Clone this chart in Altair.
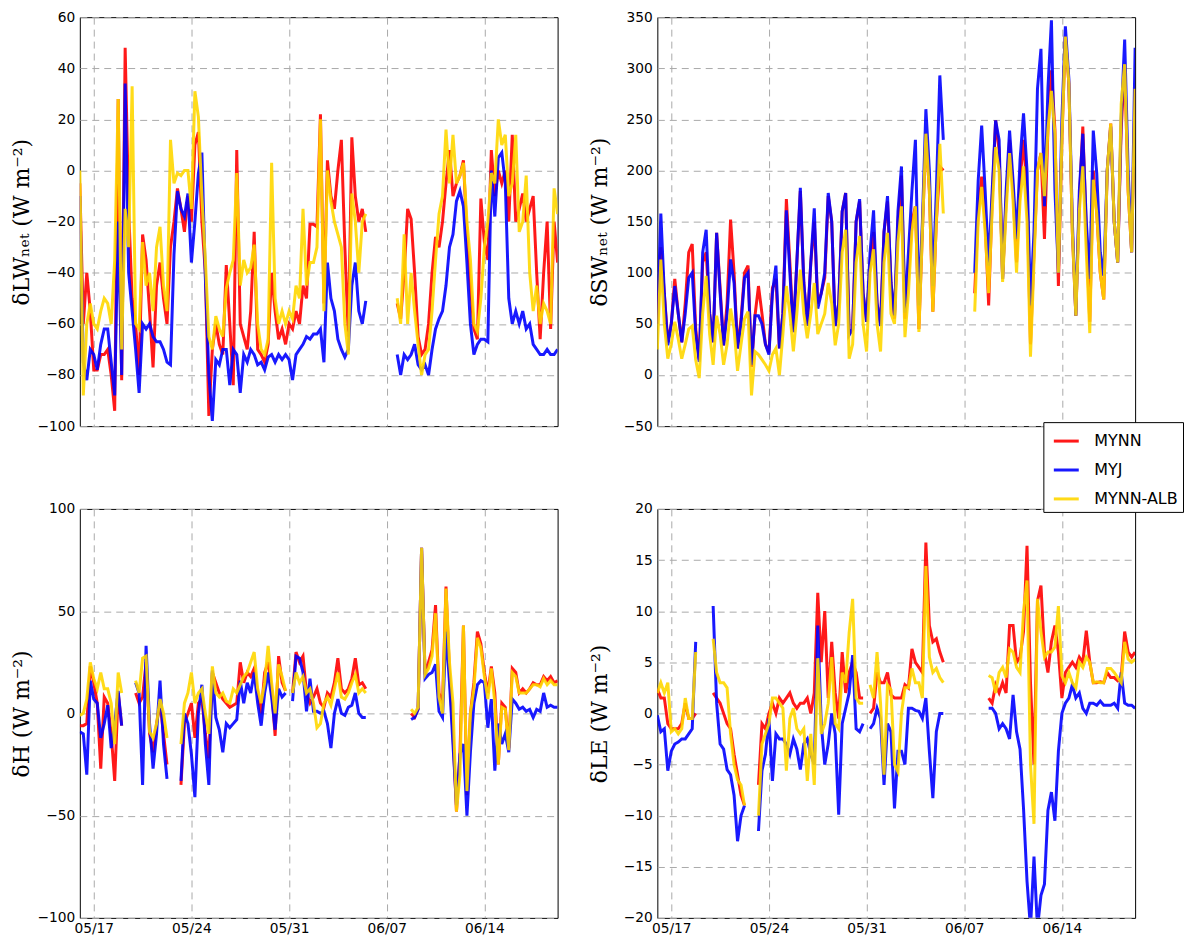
import altair as alt
import pandas as pd

N = None
MODELS = ["MYNN", "MYJ", "MYNN-ALB"]
COLORS = ["#ff0000", "#0000ff", "#ffd700"]
YEAR = 2015
TICK_DAYS = [(5, 17), (5, 24), (5, 31), (6, 7), (6, 14)]
START = pd.Timestamp("2015-05-16 00:00")
NPTS = 138  # 6-hourly samples
TIMES = [(START + pd.Timedelta(hours=6 * i)).strftime("%Y-%m-%dT%H:%M:%S") for i in range(NPTS)]

# ---------------- delta LW_net ----------------
lw_mynn = [-5, -60, -40, -55, -78, -78, -72, -72, -70, -80,
           -94, 28, -82, 48, -15, -50, -60, -80, -25, -35,
           -55, -77, -45, -36, -50, -60, -30, -20, -7, -15,
           -24, -10, -20, 10, 15, -20, -40, -96, -70, -60,
           -68, -72, -37, -60, -84, 8, -60, -65, -70, -55,
           -24, -70, -72, -75, -68, -40, -55, -66, -62, -68,
           -60, -62, -55, -60, -45, -50, -21, -21, -22, 22,
           -52, 4, -10, -15, 0, 12, -30, -65, 13, -10,
           -20, -15, -24, N, N, N, N, N, N, N,
           N, -52, -58, -40, -15, -19, -40, -65, -72, -70,
           -60, -40, -26, -30, -20, -5, 8, -10, -5, -2,
           4, -25, -45, -62, -66, -11, -28, -35, 8, -10,
           0, -5, 0, -20, 14, -20, -15, -9, -20, -15,
           -10, -40, -66, -40, -20, -62, -20, -36]
lw_myj = [-10, -75, -82, -70, -72, -78, -68, -62, -62, -75,
          -88, -20, -80, 34, -40, -55, -70, -87, -60, -62,
          -60, -65, -67, -67, -70, -75, -76, -33, -8, -15,
          -18, -9, -36, -20, -1, 7, -42, -80, -98, -74,
          -76, -70, -70, -84, -70, -72, -87, -72, -75, -70,
          -72, -76, -75, -78, -73, -72, -75, -72, -74, -72,
          -74, -82, -72, -70, -68, -65, -66, -64, -64, -62,
          -75, -36, -50, -55, -66, -70, -73, -70, -45, -36,
          -55, -60, -51, N, N, N, N, N, N, N,
          N, -72, -80, -72, -74, -72, -68, -76, -78, -76,
          -80, -70, -62, -58, -55, -45, -30, -25, -12, -8,
          -14, -36, -60, -72, -68, -66, -66, -67, 0, -18,
          5, 7, -5, -50, -60, -55, -60, -55, -62, -60,
          -68, -70, -72, -72, -70, -72, -72, -70]
lw_alb = [0, -88, -60, -52, -60, -62, -55, -50, -52, -60,
          -35, 28, -70, -15, -30, 33, -60, -62, -28, -45,
          -40, -55, -30, -22, -45, -55, 12, -5, -1, -2,
          0, 0, -15, 31, 21, -10, -35, -65, -70, -57,
          -62, -65, -46, -40, -35, -1, -45, -35, -40, -38,
          -29, -60, -70, -72, -66, 3, -50, -60, -55, -60,
          -55, -58, -45, -50, -15, -45, -36, -36, -30, 20,
          -55, 0, -12, -20, -25, -30, -60, -72, -9, -20,
          -40, -20, -17, N, N, N, N, N, N, N,
          N, -50, -60, -25, -60, -40, -55, -68, -80, -72,
          -70, -55, -35, -17, -10, 16, -5, 14, -5, -2,
          3, -20, -35, -60, -63, -50, -30, -20, -1, -5,
          20, 10, 14, -10, -5, 14, -24, -20, -2, -40,
          -55, -45, -60, -52, -55, -60, -7, -17]

# ---------------- delta SW_net ----------------
sw_mynn = [50, 125, 80, 32, 50, 94, 60, 32, 70, 120,
           128, 45, 15, 110, 120, 60, 32, 139, 85, 29,
           70, 152, 100, 26, 55, 100, 107, 8, 58, 87,
           60, 30, 22, 85, 94, 26, 60, 172, 110, 42,
           110, 180, 90, 48, 110, 150, 70, 80, 95, 175,
           150, 48, 70, 160, 178, 40, 45, 150, 170, 80,
           52, 110, 140, 70, 50, 140, 170, 90, 55, 150,
           195, 55, 100, 150, 165, 45, 140, 236, 180, 62,
           150, 204, 200, N, N, N, N, N, N, N,
           N, 80, 160, 194, 150, 68, 170, 249, 220, 94,
           170, 230, 180, 110, 190, 230, 180, 30, 120, 200,
           217, 133, 240, 298, 240, 87, 230, 331, 285, 140,
           58, 170, 243, 140, 52, 200, 158, 100, 74, 200,
           246, 150, 110, 240, 304, 180, 120, 280]
sw_myj = [50, 158, 80, 29, 50, 87, 60, 32, 60, 95,
          100, 40, 13, 120, 142, 60, 32, 139, 80, 29,
          60, 113, 90, 26, 50, 95, 100, 10, 58, 58,
          50, 30, 20, 80, 107, 26, 60, 161, 100, 42,
          110, 183, 90, 48, 110, 163, 65, 80, 100, 178,
          150, 48, 70, 160, 178, 39, 45, 150, 172, 80,
          52, 120, 161, 70, 48, 140, 175, 90, 58, 160,
          204, 61, 120, 180, 230, 68, 150, 260, 200, 87,
          180, 293, 230, N, N, N, N, N, N, N,
          N, 100, 190, 244, 180, 107, 180, 249, 230, 94,
          180, 239, 190, 133, 210, 256, 200, 68, 140, 280,
          319, 165, 280, 347, 181, 100, 250, 341, 290, 150,
          58, 180, 236, 150, 94, 239, 197, 120, 97, 200,
          243, 150, 110, 250, 328, 200, 120, 320]
sw_alb = [25, 113, 50, 16, 30, 52, 35, 16, 30, 45,
          48, 15, -3, 60, 97, 40, 10, 58, 40, 10,
          30, 65, 45, 4, 30, 55, 62, -20, 23, 20,
          15, 10, 4, 20, 26, 0, 40, 87, 60, 23,
          60, 103, 60, 36, 60, 90, 40, 50, 60, 90,
          70, 29, 50, 120, 142, 16, 30, 110, 136, 50,
          23, 100, 123, 50, 23, 110, 139, 60, 50, 130,
          165, 37, 80, 140, 165, 42, 140, 236, 180, 62,
          150, 226, 158, N, N, N, N, N, N, N,
          N, 62, 150, 184, 140, 80, 160, 223, 200, 91,
          160, 217, 170, 100, 170, 204, 150, 18, 110, 200,
          217, 175, 240, 278, 236, 100, 230, 331, 285, 140,
          58, 160, 204, 120, 41, 191, 158, 100, 74, 200,
          246, 150, 110, 265, 304, 180, 120, 280]

# ---------------- delta H ----------------
h_mynn = [-6, -6, -5, 23, 15, 5, -27, 8, 5, -10,
          -33, 10, -6, N, N, N, 10, 5, 8, 25,
          -10, -19, -5, 5, -10, -25, N, N, N, -35,
          -5, 0, 5, -12, 5, 7, -10, -22, 20, 15,
          10, 7, 5, 3, 4, 5, 25, 15, 20, 18,
          22, 10, 0, 20, 25, 12, -11, 28, 15, 11,
          N, 10, 30, 25, 28, 10, 5, 8, 12, 5,
          3, 10, 8, 15, 27, 12, 10, 12, 17, 27,
          14, 15, 12, N, N, N, N, N, N, N,
          N, N, N, N, N, 0, -2, 2, 81, 19,
          25, 31, 53, 10, 5, 62, 20, -10, -48, -20,
          43, -40, 0, 15, 40, 34, 20, 10, 23, 10,
          -25, 5, 3, -17, 22, 20, 10, 12, 10, 12,
          15, 14, 14, 18, 16, 18, 15, 16]
h_myj = [-9, -10, -30, 16, 7, 5, -12, -5, 4, -17,
         -5, 11, -6, N, N, N, 15, 10, -35, 33,
         -5, -27, -10, 16, -15, -32, N, N, N, -33,
         0, -5, -20, -41, 0, 14, -15, -35, 21, -2,
         -8, -19, -5, -7, -5, -3, 16, 5, 15, 10,
         20, 5, -6, 10, 20, 8, -8, 12, 8, 10,
         N, 6, 28, 27, 20, 1, 17, 1, 1, 0,
         1, -5, -17, 0, 7, 0, -1, 3, 4, 10,
         0, -2, -2, N, N, N, N, N, N, N,
         N, N, N, N, N, -3, -2, 2, 81, 17,
         19, 20, 24, 1, -2, 40, 15, -15, -45, -20,
         -15, -50, -19, 5, 14, 16, 15, -7, 7, -28,
         -5, -15, -10, -19, 7, 5, 2, 3, 1, 2,
         -2, 2, 1, 10, 3, 4, 3, 3]
h_alb = [-1, 0, 7, 25, 17, 12, 20, 12, 12, 5,
         -15, 20, 10, N, N, N, 16, 10, 27, 28,
         -9, -12, -5, 7, 0, -12, N, N, N, -15,
         5, 10, 20, 5, 10, 12, 0, -10, 23, 10,
         8, 10, 6, 5, 12, 10, 14, 18, 20, 25,
         30, 12, 5, 15, 33, 15, 0, 24, 18, 11,
         N, 10, 20, 15, 18, 10, 12, 5, -7, -5,
         5, 8, 4, 12, 20, 8, 7, 10, 15, 19,
         10, 12, 10, N, N, N, N, N, N, N,
         N, N, N, N, N, 2, 0, 3, 81, 19,
         22, 28, 49, 8, 0, 61, 25, 5, -48, -30,
         43, -38, 0, 12, 37, 32, 18, 7, 22, 5,
         -25, 3, 2, -18, 20, 18, 10, 10, 10, 12,
         14, 14, 13, 17, 14, 16, 14, 14]

# ---------------- delta LE ----------------
le_mynn = [2.4, 1.5, 1.5, -1, -1.5, -1.5, -1.5, -1, 1, -0.5,
           -0.5, 0, N, N, N, N, 2, 1.5, 1, 0,
           -1, -1.5, -4, -6, -8, -9, N, N, N, -7,
           -1, -1.5, 0, 1, 0, 1.5, 1, 1.5, 2, 1,
           0.5, 1, 1, 1.5, 0, 2, 11.8, 5, 10, 1.5,
           7, 2, -0.5, 6, 2, 4, 5, 4, 1.5, 1.5,
           N, 0, 0.5, 4, 3, 3, 4, 1.8, 1.5, 1.5,
           1.5, 2.8, 2.5, 6.3, 5, 4.5, 4, 16.7, 8.6, 7,
           7.3, 6, 5, N, N, N, N, N, N, N,
           N, N, N, N, N, 1.5, 1, 2.8, 2, 3,
           2, 8.6, 8.6, 5, 5.5, 8, 16.4, 3, -5, 11,
           12.5, 6, 4, 7, 8.6, 6, 1.5, 4, 4.5, 5,
           4.5, 5.5, 5, 8.1, 5, 3, 3, 3.1, 3, 4,
           3.5, 3.5, 3.2, 3.5, 8, 6, 5.5, 6]
le_myj = [-0.2, -1.8, -1.5, -5.6, -3.7, -3, -2.8, -2.5, -2.5, -2,
          -1.5, 7, N, N, N, N, 10.5, 1, -3, -3.5,
          -5.5, -6, -8, -12.5, -10, -9, N, N, N, -11.5,
          -5.6, -4, -0.5, -6.6, -2, -2.5, -2.5, -3, -4, -2.5,
          -3.5, -5.5, -3, -2.5, -4, -5, 8.6, -1, -5, -3,
          0, -2, -9.9, -1, 0.5, 2, 5.7, -1.5, -1.8, -1,
          N, -1.5, -1, 0.5, -0.5, -7, -1, -1.8, -9.3, -3.7,
          -3.7, -5, 0.5, 0.5, 0.3, 0.2, -0.5, 1.5, -3.7, -8.3,
          -1.8, 0, 0, N, N, N, N, N, N, N,
          N, N, N, N, N, 0.5, 0.5, 0, -1.5, -1,
          -1.5, -2.5, 1.8, -1.8, -3.5, -9.3, -16.4, -21, -14, -21,
          -17.8, -16.7, -9.5, -7.7, -10.5, -3.7, 0, 1, 1.5, 2.8,
          1.5, 2, 0.5, 0, 1, 1, 0.8, 1.2, 0.8, 0.8,
          0.8, 1, 0.5, 4, 1, 0.8, 0.8, 0.5]
le_alb = [2, 3, 2, 3, -1.8, -1.5, -2, -1.5, 1.5, -0.5,
          -0.5, 6, N, N, N, N, 7.3, 4, 3, 3,
          2.5, -2, -5, -6.5, -7, -9, N, N, N, -10,
          -3, -2, -1, 1.5, 1.5, 1, 0.5, -5.6, -0.5, 0.5,
          -1.5, -2, -1.5, -6.6, -2, -7, 5.4, -2, -1, 1,
          5.5, -1, -1.5, 4, 3, 7.9, 11.2, 1.5, 1, 1,
          N, 2.8, 1.5, 6, 1, -6, 2.8, 2.3, -5, -5.7,
          0, 2.5, 2.5, 4.4, 3, 3, 1.5, 14.4, 5.5, 4,
          4.4, 3.5, 3, N, N, N, N, N, N, N,
          N, N, N, N, N, 3.7, 3.5, 2, 4, 4.5,
          3.5, 6.3, 6, 4.5, 4, 10, 13, -5, -10.8, 11.2,
          8, 5.5, 6, 6, 6.5, 10.5, 3.7, 3, 4, 3,
          2.5, 5, 4.5, 5.5, 5, 3, 3.1, 3, 3, 4.4,
          4.4, 4, 3.5, 3, 7, 5.3, 5, 5.3]

GRID = "#aaaaaa"
DASH = [7, 5]
TICK_FONT = "DejaVu Sans"
TICK_SIZE = 13.8


def panel(series, ymin, ymax, step, ytitle, show_x):
    rows = []
    for m, vals in zip(MODELS, series):
        assert len(vals) == NPTS, (ytitle, m, len(vals))
        for t, v in zip(TIMES, vals):
            rows.append({"t": t, "v": v, "model": m})
    df = pd.DataFrame(rows)

    xaxis = alt.Axis(
        values=[alt.DateTime(year=YEAR, month=mo, date=d) for mo, d in TICK_DAYS],
        format="%m/%d", labels=show_x, ticks=False, domain=False,
        grid=True, gridDash=DASH, gridColor=GRID, gridWidth=1,
        labelFont=TICK_FONT, labelFontSize=TICK_SIZE, labelColor="black",
        labelPadding=4, title=None,
    )
    yaxis = alt.Axis(
        values=list(range(ymin, ymax + 1, step)), ticks=False, domain=False,
        grid=True, gridDash=DASH, gridColor=GRID, gridWidth=1,
        labelFont=TICK_FONT, labelFontSize=TICK_SIZE, labelColor="black",
        labelPadding=5, minExtent=42, maxExtent=42,
        title=ytitle, titleFont="DejaVu Serif", titleFontSize=22,
        titleFontWeight="normal", titleColor="black", titlePadding=4,
    )
    xs = alt.Scale(domain=[alt.DateTime(year=YEAR, month=5, date=16, hours=0),
                           alt.DateTime(year=YEAR, month=6, date=19, hours=6)])
    ys = alt.Scale(domain=[ymin, ymax], nice=False, zero=False)
    cs = alt.Scale(domain=MODELS, range=COLORS)

    base = alt.Chart(df)
    layers = []
    for m in MODELS:
        layers.append(
            base.transform_filter(alt.datum.model == m)
            .mark_line(strokeWidth=3, opacity=0.9, clip=True,
                       invalid="break-paths-show-domains")
            .encode(
                x=alt.X("t:T", scale=xs, axis=xaxis),
                y=alt.Y("v:Q", scale=ys, axis=yaxis),
                color=alt.Color("model:N", scale=cs, legend=alt.Legend(title=None)),
            )
        )
    return alt.layer(*layers).properties(width=479, height=410)


p_lw = panel([lw_mynn, lw_myj, lw_alb], -100, 60, 20, "δLWₙₑₜ (W m⁻²)", False)
p_sw = panel([sw_mynn, sw_myj, sw_alb], -50, 350, 50, "δSWₙₑₜ (W m⁻²)", False)
p_h = panel([h_mynn, h_myj, h_alb], -100, 100, 50, "δH (W m⁻²)", True)
p_le = panel([le_mynn, le_myj, le_alb], -20, 20, 5, "δLE (W m⁻²)", True)

chart = alt.vconcat(
    alt.hconcat(p_lw, p_sw, spacing=29),
    alt.hconcat(p_h, p_le, spacing=29),
    spacing=67,
).properties(
    padding={"left": 2, "top": 0, "right": 0, "bottom": 0}
).configure_view(
    stroke="black", strokeWidth=1
).configure_legend(
    orient="none", legendX=966, legendY=406,
    fillColor="white", strokeColor="black", strokeWidth=1, cornerRadius=0,
    padding=5, rowPadding=7, symbolType="stroke", symbolSize=625,
    symbolStrokeWidth=3, symbolOffset=4, labelOffset=14,
    labelFont="DejaVu Sans", labelFontSize=16, labelColor="black",
)

chart.save("out.html", embed_options={"renderer": "svg", "actions": False})
